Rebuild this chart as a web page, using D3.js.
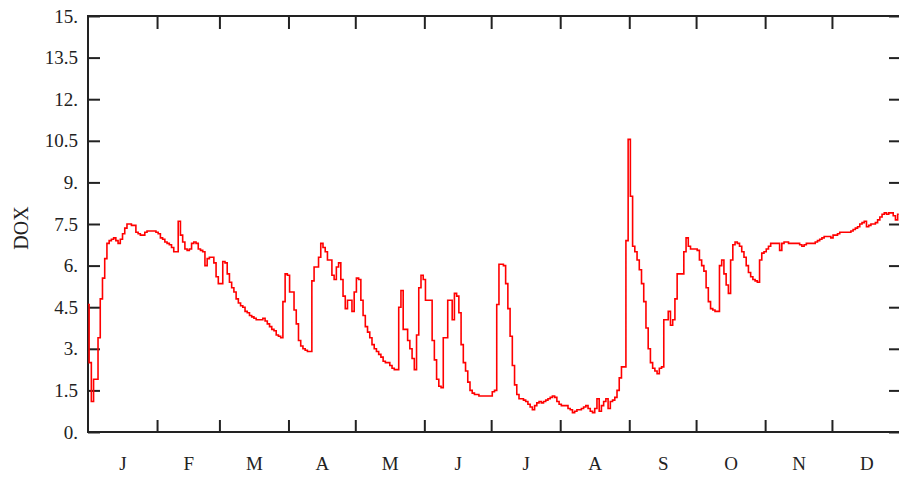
<!DOCTYPE html>
<html>
<head>
<meta charset="utf-8">
<script src="https://cdn.jsdelivr.net/npm/d3@7"></script>
<style>
  body { margin: 0; background: #fff; }
  .chart text { font-family: "Liberation Serif", "Times New Roman", serif; font-size: 19px; fill: #222; }
</style>
</head>
<body>
<div class="chart"></div>
<script>
// daily DOX values, one array per month
let jan = [4.6, 2.5, 1.1, 1.9, 1.9, 3.4, 4.8, 5.55, 6.25, 6.8,
  6.9, 6.95, 7.0, 6.9, 6.8, 6.95, 7.15, 7.35, 7.5, 7.5, 7.45, 7.45,
  7.2, 7.15, 7.1, 7.1, 7.2, 7.25, 7.25, 7.25, 7.25];
let feb = [7.2, 7.15, 7.0, 6.95, 6.85, 6.8, 6.75, 6.65, 6.5, 6.5,
  7.6, 7.1, 6.85, 6.6, 6.55, 6.6, 6.8, 6.85, 6.8, 6.6,
  6.55, 6.5, 6.0, 6.25, 6.3, 6.3, 6.1, 5.6];
let mar = [5.35, 5.35, 6.15, 6.1, 5.7, 5.4, 5.2, 5.05, 4.8, 4.65,
  4.55, 4.5, 4.35, 4.3, 4.2, 4.15, 4.1, 4.05, 4.05, 4.05,
  4.1, 4.0, 3.9, 3.8, 3.7, 3.65, 3.5, 3.45, 3.4, 4.7, 5.7];
let apr = [5.65, 5.05, 5.05, 4.4, 3.9, 3.3, 3.1, 3.0, 2.95, 2.9,
  2.9, 5.45, 5.95, 5.95, 6.3, 6.8, 6.65, 6.5, 6.2, 6.2,
  5.65, 5.5, 5.95, 6.1, 5.5, 4.9, 4.45, 4.75, 4.75, 4.35];
let may = [5.05, 5.55, 5.5, 4.75, 4.2, 3.8, 3.6, 3.4, 3.15, 3.0,
  2.9, 2.8, 2.7, 2.55, 2.5, 2.5, 2.4, 2.3, 2.25, 2.25,
  4.5, 5.1, 3.7, 3.7, 3.3, 3.0, 2.65, 2.25, 3.5, 5.2, 5.65];
let jun = [5.5, 4.75, 4.75, 4.75, 3.3, 2.6, 1.9, 1.65, 1.6, 3.4,
  3.4, 4.75, 4.75, 4.05, 5.0, 4.9, 4.3, 3.15, 2.5, 2.2,
  1.8, 1.5, 1.4, 1.35, 1.35, 1.3, 1.3, 1.3, 1.3, 1.3];
let jul = [1.3, 1.45, 1.5, 4.6, 6.05, 6.05, 6.0, 5.35, 4.45, 3.45,
  2.4, 1.7, 1.35, 1.2, 1.2, 1.15, 1.1, 1.0, 0.9, 0.8,
  0.95, 1.05, 1.1, 1.05, 1.1, 1.15, 1.2, 1.25, 1.3, 1.25, 1.1];
let aug = [1.0, 0.95, 0.95, 0.95, 0.85, 0.8, 0.7, 0.75, 0.8, 0.8,
  0.85, 0.9, 0.95, 0.85, 0.75, 0.7, 0.85, 1.2, 0.75, 0.95,
  1.1, 1.2, 0.85, 1.1, 1.15, 1.25, 1.5, 1.95, 2.35, 2.35, 6.9];
let sep = [10.55, 8.5, 6.7, 6.5, 6.2, 5.85, 5.35, 4.7, 3.75, 3.0,
  2.5, 2.3, 2.2, 2.1, 2.3, 2.35, 4.05, 4.05, 4.35, 3.85,
  4.05, 4.8, 5.7, 5.7, 5.7, 6.5, 7.0, 6.7, 6.6, 6.6];
let oct = [6.6, 6.55, 6.2, 6.0, 5.8, 5.2, 4.7, 4.45, 4.4, 4.35,
  4.35, 6.0, 6.2, 5.7, 5.3, 5.0, 6.2, 6.75, 6.85, 6.8,
  6.7, 6.5, 6.3, 6.0, 5.75, 5.6, 5.5, 5.45, 5.4, 6.2, 6.45];
let nov = [6.5, 6.6, 6.7, 6.8, 6.8, 6.8, 6.8, 6.55, 6.8, 6.85,
  6.85, 6.8, 6.8, 6.8, 6.8, 6.8, 6.75, 6.7, 6.75, 6.8,
  6.8, 6.8, 6.8, 6.85, 6.9, 6.95, 7.0, 7.05, 7.05, 7.05];
let dec = [7.0, 7.1, 7.1, 7.15, 7.2, 7.2, 7.2, 7.2, 7.2, 7.25,
  7.3, 7.35, 7.4, 7.5, 7.55, 7.6, 7.4, 7.45, 7.5, 7.5,
  7.55, 7.65, 7.75, 7.85, 7.9, 7.85, 7.9, 7.9, 7.8, 7.65, 7.85];

let monthLabels = ["J", "F", "M", "A", "M", "J", "J", "A", "S", "O", "N", "D"];
let yTicks = [0, 1.5, 3, 4.5, 6, 7.5, 9, 10.5, 12, 13.5, 15];
let yTickLabels = ["0.", "1.5", "3.", "4.5", "6.", "7.5", "9.", "10.5", "12.", "13.5", "15."];

let months = [jan, feb, mar, apr, may, jun, jul, aug, sep, oct, nov, dec];
let series = months.flat().map((v, i) => ({ day: i, value: v }));

// month boundaries (day of year) and centres
let monthStarts = [];
let acc = 0;
months.forEach(m => { monthStarts.push(acc); acc += m.length; });
let monthMids = months.map((m, i) => monthStarts[i] + m.length / 2);

let margin = { top: 16, left: 88 };
let W = 899, H = 480;
let plotW = 813, plotH = 416;

let svg = d3.select(".chart").append("svg")
  .attr("width", W)
  .attr("height", H);

let g = svg.append("g")
  .attr("transform", `translate(${margin.left}, ${margin.top})`);

let x = d3.scaleLinear().domain([0, acc]).range([0, plotW]);
let y = d3.scaleLinear().domain([0, 15]).range([plotH, 0]);

let axisColor = "#222";

// left axis, ticks pointing in
g.append("g")
  .call(d3.axisLeft(y).tickValues(yTicks).tickSize(-12).tickPadding(10)
    .tickFormat((d, i) => yTickLabels[i]))
  .call(a => a.select(".domain").remove());

// right axis ticks
g.append("g")
  .attr("transform", `translate(${plotW}, 0)`)
  .call(d3.axisRight(y).tickValues(yTicks).tickSize(-12).tickFormat(""))
  .call(a => a.select(".domain").remove());

// bottom month ticks
g.append("g")
  .attr("transform", `translate(0, ${plotH})`)
  .call(d3.axisBottom(x).tickValues(monthStarts.slice(1)).tickSize(-12).tickFormat(""))
  .call(a => a.select(".domain").remove());

// top month ticks
g.append("g")
  .call(d3.axisTop(x).tickValues(monthStarts.slice(1)).tickSize(-13).tickFormat(""))
  .call(a => a.select(".domain").remove());

// month letters
g.append("g")
  .attr("transform", `translate(0, ${plotH})`)
  .call(d3.axisBottom(x).tickValues(monthMids).tickSize(0)
    .tickFormat((d, i) => monthLabels[i]))
  .call(a => a.select(".domain").remove())
  .selectAll("text")
  .attr("y", 38)
  .attr("dy", 0);

g.selectAll(".tick line")
  .attr("stroke", axisColor)
  .attr("stroke-width", 2);
g.selectAll(".tick text")
  .attr("fill", "#222")
  .style("font-size", "19px");

// frame
g.append("rect")
  .attr("x", 0).attr("y", 0)
  .attr("width", plotW).attr("height", plotH)
  .attr("fill", "none")
  .attr("stroke", axisColor)
  .attr("stroke-width", 2);

let line = d3.line()
  .x(d => x(d.day))
  .y(d => y(d.value))
  .curve(d3.curveStep);

g.append("path")
  .datum(series)
  .attr("fill", "none")
  .attr("stroke", "#ff0000")
  .attr("stroke-width", 1.6)
  .attr("d", line);

// y title
svg.append("text")
  .attr("transform", "translate(28, 228) rotate(-90)")
  .attr("text-anchor", "middle")
  .style("font-size", "20px")
  .text("DOX");
</script>
</body>
</html>
